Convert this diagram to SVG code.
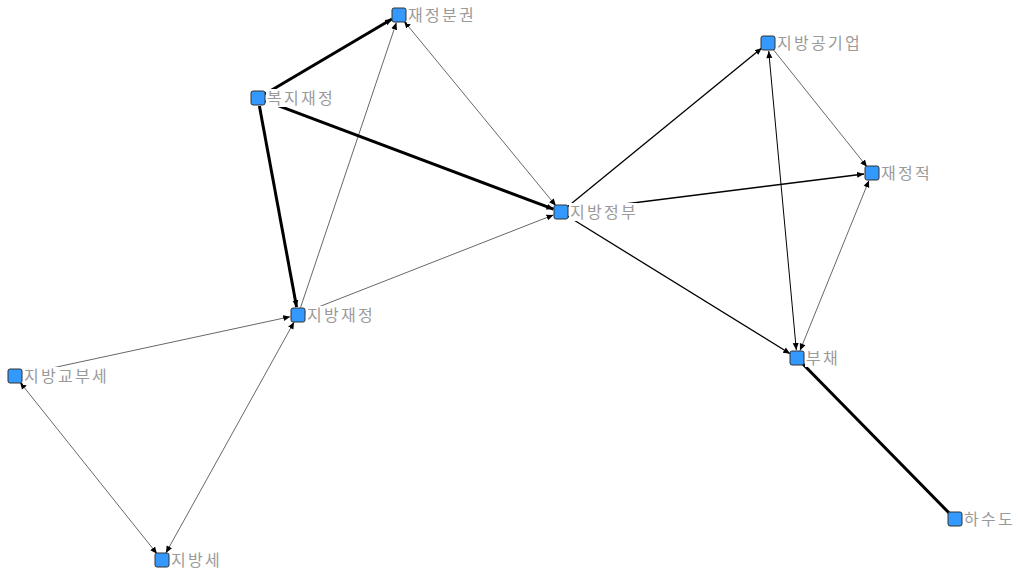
<svg xmlns="http://www.w3.org/2000/svg" width="1019" height="572" viewBox="0 0 1019 572">
<style>
.e{stroke:#000;fill:none}
.n rect{fill:#3399ff;stroke:#333;stroke-width:1}
.n rect.bg{fill:#fff;stroke:none}
.n text{font-family:"Noto Sans CJK KR","Noto Sans",sans-serif;font-size:16px;letter-spacing:2.3px;fill:#9a9a9a}
</style>
<defs>
<marker id="a" markerUnits="userSpaceOnUse" markerWidth="8" markerHeight="8" refX="7" refY="4" orient="auto"><path d="M0,1 L7,4 L0,7 Z" fill="#000"/></marker>
<marker id="s" markerUnits="userSpaceOnUse" markerWidth="8" markerHeight="8" refX="0" refY="4" orient="auto"><path d="M7,1 L0,4 L7,7 Z" fill="#000"/></marker>
</defs>
<rect width="1019" height="572" fill="#fff"/>
<g id="edges">
<line class="e" x1="265" y1="94" x2="392" y2="19" stroke-width="3" marker-end="url(#a)"/>
<line class="e" x1="265.5" y1="100.8" x2="553.5" y2="209.2" stroke-width="3" marker-end="url(#a)"/>
<line class="e" x1="259.4" y1="105.9" x2="296.6" y2="307.1" stroke-width="3" marker-end="url(#a)"/>
<line class="e" x1="300.6" y1="307.4" x2="396.4" y2="22.6" stroke-width="0.6" marker-end="url(#a)"/>
<line class="e" x1="555.9" y1="205.8" x2="404.1" y2="21.2" stroke-width="0.6" marker-end="url(#a)" marker-start="url(#s)"/>
<line class="e" x1="305.4" y1="312.1" x2="553.5" y2="214.9" stroke-width="0.6" marker-end="url(#a)"/>
<line class="e" x1="22.8" y1="374.3" x2="290.2" y2="316.7" stroke-width="0.6" marker-end="url(#a)"/>
<line class="e" x1="165.9" y1="553" x2="294.1" y2="322" stroke-width="0.6" marker-end="url(#a)" marker-start="url(#s)"/>
<line class="e" x1="20" y1="382.2" x2="157" y2="553.8" stroke-width="0.6" marker-end="url(#a)" marker-start="url(#s)"/>
<line class="e" x1="567.2" y1="206.9" x2="761.8" y2="48.1" stroke-width="1.3" marker-end="url(#a)"/>
<line class="e" x1="569" y1="211" x2="864" y2="174" stroke-width="1.6" marker-end="url(#a)"/>
<line class="e" x1="567.8" y1="216.2" x2="790.2" y2="353.8" stroke-width="1.3" marker-end="url(#a)"/>
<line class="e" x1="768.7" y1="51" x2="796.3" y2="350" stroke-width="1" marker-end="url(#a)" marker-start="url(#s)"/>
<line class="e" x1="773" y1="49.2" x2="867" y2="166.8" stroke-width="0.6" marker-end="url(#a)"/>
<line class="e" x1="800" y1="350.6" x2="869" y2="180.4" stroke-width="0.6" marker-end="url(#a)" marker-start="url(#s)"/>
<line class="e" x1="955" y1="519" x2="797" y2="358" stroke-width="3"/>
</g>
<g id="n1" class="n"><rect class="bg" x="407" y="6" width="68" height="18"/><rect x="392" y="8" width="14" height="14" rx="2"/><text x="408" y="21">재정분권</text></g>
<g id="n2" class="n"><rect class="bg" x="266" y="89" width="68" height="18"/><rect x="251" y="91" width="14" height="14" rx="2"/><text x="267" y="104">복지재정</text></g>
<g id="n3" class="n"><rect class="bg" x="569" y="203" width="68" height="18"/><rect x="554" y="205" width="14" height="14" rx="2"/><text x="570" y="218">지방정부</text></g>
<g id="n4" class="n"><rect class="bg" x="306" y="306" width="68" height="18"/><rect x="291" y="308" width="14" height="14" rx="2"/><text x="307" y="321">지방재정</text></g>
<g id="n5" class="n"><rect class="bg" x="23" y="367" width="85" height="18"/><rect x="8" y="369" width="14" height="14" rx="2"/><text x="24" y="382">지방교부세</text></g>
<g id="n6" class="n"><rect class="bg" x="170" y="551" width="51" height="18"/><rect x="155" y="553" width="14" height="14" rx="2"/><text x="171" y="566">지방세</text></g>
<g id="n7" class="n"><rect class="bg" x="776" y="34" width="85" height="18"/><rect x="761" y="36" width="14" height="14" rx="2"/><text x="777" y="49">지방공기업</text></g>
<g id="n8" class="n"><rect class="bg" x="880" y="164" width="51" height="18"/><rect x="865" y="166" width="14" height="14" rx="2"/><text x="881" y="179">재정적</text></g>
<g id="n9" class="n"><rect class="bg" x="805" y="349" width="34" height="18"/><rect x="790" y="351" width="14" height="14" rx="2"/><text x="806" y="364">부채</text></g>
<g id="n10" class="n"><rect class="bg" x="963" y="510" width="51" height="18"/><rect x="948" y="512" width="14" height="14" rx="2"/><text x="964" y="525">하수도</text></g>
</svg>
